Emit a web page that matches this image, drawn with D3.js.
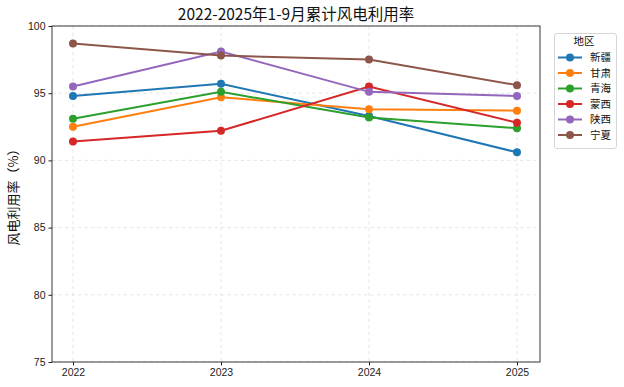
<!DOCTYPE html>
<html>
<head>
  <meta charset="utf8">
  <style type="text/css">
    body { margin: 0; background: #fff; font-family: "Noto Sans CJK SC", "DejaVu Sans", sans-serif; }
    .grid line { stroke: #e0e0e0; stroke-dasharray: 3.5,3; stroke-width: 0.8; }
    .axis text { font-size: 10.5px; fill: #222; }
    .axis path, .axis line { stroke: #222; }
  </style>
</head>
<body>
<script src="https://d3js.org/d3.v7.min.js"></script>
<script type="text/javascript">

var years = [2022, 2023, 2024, 2025]
var regions = ['新疆', '甘肃', '青海', '蒙西', '陕西', '宁夏']
var xinjiang = [94.8, 95.7, 93.3, 90.6]
var gansu = [92.5, 94.7, 93.8, 93.7]
var qinghai = [93.1, 95.1, 93.2, 92.4]
var mengxi = [91.4, 92.2, 95.5, 92.8]
var shaanxi = [95.5, 98.1, 95.1, 94.8]
var ningxia = [98.7, 97.8, 97.5, 95.6]
var yTicks = [75, 80, 85, 90, 95, 100]
var colors = ['#1f77b4', '#ff7f0e', '#2ca02c', '#d62728', '#9467bd', '#8c564b']

var series = [xinjiang, gansu, qinghai, mengxi, shaanxi, ningxia]

var width = 624, height = 387
var mLeft = 52, mRight = 540, mTop = 26, mBottom = 362

var svg = d3.select('body').append('svg')
    .attr('width', width)
    .attr('height', height)

var x = d3.scaleLinear().domain([2022, 2025]).range([73, 517])
var y = d3.scaleLinear().domain([75, 100]).range([mBottom, mTop])

// grid
var grid = svg.append('g').attr('class', 'grid')
grid.selectAll('.gx').data(years).enter().append('line')
    .attr('x1', function(d) { return x(d) }).attr('x2', function(d) { return x(d) })
    .attr('y1', mTop).attr('y2', mBottom)
grid.selectAll('.gy').data(yTicks).enter().append('line')
    .attr('x1', mLeft).attr('x2', mRight)
    .attr('y1', function(d) { return y(d) }).attr('y2', function(d) { return y(d) })

// axes
svg.append('g').attr('class', 'axis')
    .attr('transform', 'translate(0,' + mBottom + ')')
    .call(d3.axisBottom(x).tickValues(years).tickFormat(d3.format('d')).tickSizeOuter(0).tickSize(3.5))
    .select('.domain').remove()
svg.append('g').attr('class', 'axis')
    .attr('transform', 'translate(' + mLeft + ',0)')
    .call(d3.axisLeft(y).tickValues(yTicks).tickSizeOuter(0).tickSize(3.5))
    .select('.domain').remove()

svg.append('rect')
    .attr('x', mLeft).attr('y', mTop)
    .attr('width', mRight - mLeft).attr('height', mBottom - mTop)
    .attr('fill', 'none').attr('stroke', '#222').attr('stroke-width', 0.9)

// lines
var line = d3.line()
    .x(function(d, i) { return x(years[i]) })
    .y(function(d) { return y(d) })

var g = svg.selectAll('.series').data(series).enter().append('g')
g.append('path')
    .attr('d', line)
    .attr('fill', 'none')
    .attr('stroke', function(d, i) { return colors[i] })
    .attr('stroke-width', 2)
g.each(function(d, i) {
  d3.select(this).selectAll('circle').data(d).enter().append('circle')
    .attr('cx', function(v, j) { return x(years[j]) })
    .attr('cy', function(v) { return y(v) })
    .attr('r', 4)
    .attr('fill', colors[i])
})

// title
svg.append('text')
    .attr('x', (mLeft + mRight) / 2).attr('y', 20)
    .attr('text-anchor', 'middle')
    .style('font-size', '15.5px').style('fill', '#111')
    .text('2022-2025年1-9月累计风电利用率')

svg.append('text')
    .attr('transform', 'translate(18,' + ((mTop + mBottom) / 2) + ') rotate(-90)')
    .attr('text-anchor', 'middle')
    .style('font-size', '13px').style('fill', '#111')
    .text('风电利用率（%）')

// legend
var lg = svg.append('g')
lg.append('rect')
    .attr('x', 554.5).attr('y', 33.5).attr('width', 62).attr('height', 115)
    .attr('rx', 2.5)
    .attr('fill', '#fff').attr('stroke', '#ccc').attr('stroke-width', 0.8)
lg.append('text')
    .attr('x', 584).attr('y', 45)
    .attr('text-anchor', 'middle')
    .style('font-size', '10.5px').style('fill', '#111')
    .text('地区')
var item = lg.selectAll('.item').data(regions).enter().append('g')
    .attr('transform', function(d, i) { return 'translate(0,' + (57.5 + i * 15.5) + ')' })
item.append('line')
    .attr('x1', 558).attr('x2', 582)
    .attr('stroke', function(d, i) { return colors[i] })
    .attr('stroke-width', 2)
item.append('circle')
    .attr('cx', 570).attr('r', 4)
    .attr('fill', function(d, i) { return colors[i] })
item.append('text')
    .attr('x', 590).attr('dy', '0.35em')
    .style('font-size', '10.5px').style('fill', '#111')
    .text(function(d) { return d })

</script>
</body>
</html>
